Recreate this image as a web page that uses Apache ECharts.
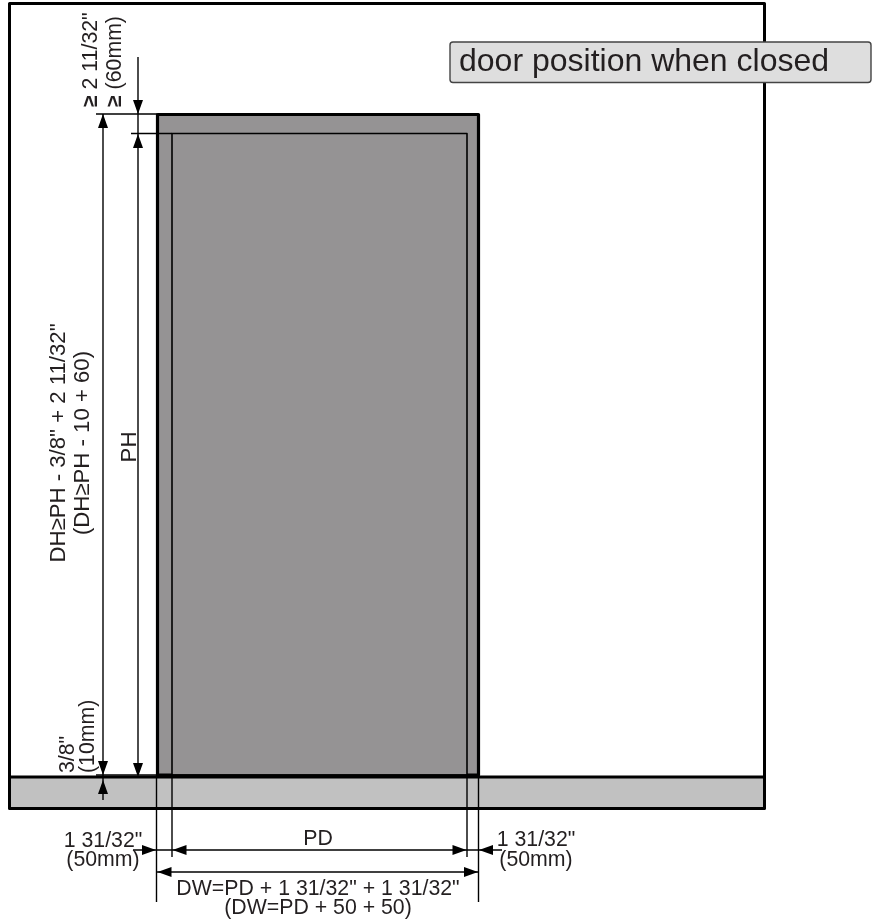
<!DOCTYPE html>
<html>
<head>
<meta charset="utf-8">
<style>html,body{margin:0;padding:0;background:#fff}#c{width:879px;height:924px}</style>
<script src="https://cdn.jsdelivr.net/npm/echarts@6/dist/echarts.min.js"></script>
</head>
<body>
<div id="c"></div>
<script>
// x0, y0, x1, y1, fill, stroke, width
var filledAreas = [
  [9.5, 777, 764.5, 808.5, '#c1c1c1', '#000', 3],
  [157.5, 114.5, 478.5, 775, '#959394', '#000', 3.2],
  [172, 133.5, 467, 775, '#959394', '#000', 1.6]
];
var frameLines = [
  [[9.5, 808.5], [9.5, 3.5], [764.5, 3.5], [764.5, 808.5]]
];
// x0, y0, x1, y1
var thinLines = [
  [96, 114, 157, 114],
  [131, 133.5, 172, 133.5],
  [96, 775, 478, 775],
  [103, 114, 103, 800],
  [138, 57, 138, 775],
  [156.5, 775, 156.5, 902],
  [478.5, 775, 478.5, 902],
  [172, 775, 172, 857],
  [467, 775, 467, 857],
  [133, 850, 502, 850],
  [157, 872, 478, 872]
];
// tip x, tip y, direction
var arrowHeads = [
  [103, 114, 'up'], [103, 775, 'down'], [103, 780, 'up'],
  [138, 114, 'down'], [138, 134, 'up'], [138, 777, 'down'],
  [156, 850, 'right'], [172.5, 850, 'left'], [466.5, 850, 'right'], [479, 850, 'left'],
  [157.5, 872, 'left'], [478, 872, 'right']
];
// text, x, y, rotation, align, size
var dimensionTexts = [
  ['{b|≥} 2 11/32"', 91, 107, 90, 'left', 21.3],
  ['{b|≥} (60mm)', 115.5, 107, 90, 'left', 21.3],
  ['DH≥PH - 3/8" + 2 11/32"', 59, 443, 90, 'center', 22.2],
  ['(DH≥PH - 10 + 60)', 83, 443, 90, 'center', 22.2],
  ['PH', 130, 447, 90, 'center', 22.2],
  ['3/8"', 68.5, 773, 90, 'left', 21.3],
  ['(10mm)', 88, 773, 90, 'left', 21.3],
  ['1 31/32"', 103, 841, 0, 'center', 21.3],
  ['(50mm)', 103, 860, 0, 'center', 21.3],
  ['PD', 318, 839, 0, 'center', 21.3],
  ['1 31/32"', 536, 840, 0, 'center', 21.3],
  ['(50mm)', 536, 860, 0, 'center', 21.3],
  ['DW=PD + 1 31/32" + 1 31/32"', 318, 889, 0, 'center', 21.3],
  ['(DW=PD + 50 + 50)', 318, 908, 0, 'center', 21.3]
];
var tagBox = [[450, 42, 871, 82.5]];
var tagText = ['door position when closed', 459, 62];

var FONT = '"Liberation Sans", Arial, sans-serif';
var HEAD_LEN = 14, HEAD_HALF = 5;

function renderArea(p, api) {
  var a = api.coord([api.value(0), api.value(1)]);
  var b = api.coord([api.value(2), api.value(3)]);
  var d = filledAreas[p.dataIndex];
  return {type: 'rect', shape: {x: a[0], y: a[1], width: b[0] - a[0], height: b[1] - a[1]},
    style: {fill: d[4], stroke: d[5], lineWidth: d[6], lineJoin: 'round'}};
}
function renderLine(p, api) {
  var a = api.coord([api.value(0), api.value(1)]);
  var b = api.coord([api.value(2), api.value(3)]);
  return {type: 'line', shape: {x1: a[0], y1: a[1], x2: b[0], y2: b[1]},
    style: {stroke: '#000', lineWidth: 1.4}};
}
function renderArrow(p, api) {
  var d = arrowHeads[p.dataIndex];
  var t = api.coord([d[0], d[1]]);
  var v = {up: [0, 1], down: [0, -1], left: [1, 0], right: [-1, 0]}[d[2]];
  var bx = t[0] + v[0] * HEAD_LEN, by = t[1] + v[1] * HEAD_LEN;
  return {type: 'polygon', shape: {points: [t,
      [bx + v[1] * HEAD_HALF, by + v[0] * HEAD_HALF],
      [bx - v[1] * HEAD_HALF, by - v[0] * HEAD_HALF]]},
    style: {fill: '#000'}};
}
function renderText(p, api) {
  var d = dimensionTexts[p.dataIndex];
  var c = api.coord([d[1], d[2]]);
  return {type: 'text', x: c[0], y: c[1], rotation: d[3] * Math.PI / 180,
    style: {text: d[0], fill: '#231f20', fontFamily: FONT, fontSize: d[5],
      align: d[4], verticalAlign: 'middle',
      rich: {b: {fontFamily: FONT, fontSize: d[5], fontWeight: 'bold', fill: '#231f20'}}}};
}
function renderTag(p, api) {
  var a = api.coord([api.value(0), api.value(1)]);
  var b = api.coord([api.value(2), api.value(3)]);
  var c = api.coord([tagText[1], tagText[2]]);
  return {type: 'group', children: [
    {type: 'rect', shape: {x: a[0], y: a[1], width: b[0] - a[0], height: b[1] - a[1], r: 3},
      style: {fill: '#dedede', stroke: '#444', lineWidth: 1.4}},
    {type: 'text', x: c[0], y: c[1],
      style: {text: tagText[0], fill: '#231f20', fontFamily: FONT, fontSize: 32, align: 'left', verticalAlign: 'middle'}}
  ]};
}
function custom(data, fn, z) {
  return {type: 'custom', data: data, renderItem: fn, z: z, silent: true, animation: false, clip: false,
    encode: {x: 0, y: 1}};
}
var series = [custom(filledAreas, renderArea, 2)];
frameLines.forEach(function (pts) {
  series.push({type: 'line', data: pts, symbol: 'none', silent: true, animation: false, z: 3,
    lineStyle: {color: '#000', width: 3, join: 'round'}});
});
series.push(custom(thinLines, renderLine, 4));
series.push(custom(arrowHeads.map(function (d) { return [d[0], d[1]]; }), renderArrow, 5));
series.push(custom(dimensionTexts.map(function (d) { return [d[1], d[2]]; }), renderText, 6));
series.push(custom(tagBox, renderTag, 7));

var chart = echarts.init(document.getElementById('c'), null, {renderer: 'canvas'});
chart.setOption({
  animation: false,
  backgroundColor: '#fff',
  grid: {left: 0, right: 0, top: 0, bottom: 0},
  xAxis: {type: 'value', min: 0, max: 879, show: false},
  yAxis: {type: 'value', min: 0, max: 924, inverse: true, show: false},
  series: series
});
</script>
</body>
</html>
